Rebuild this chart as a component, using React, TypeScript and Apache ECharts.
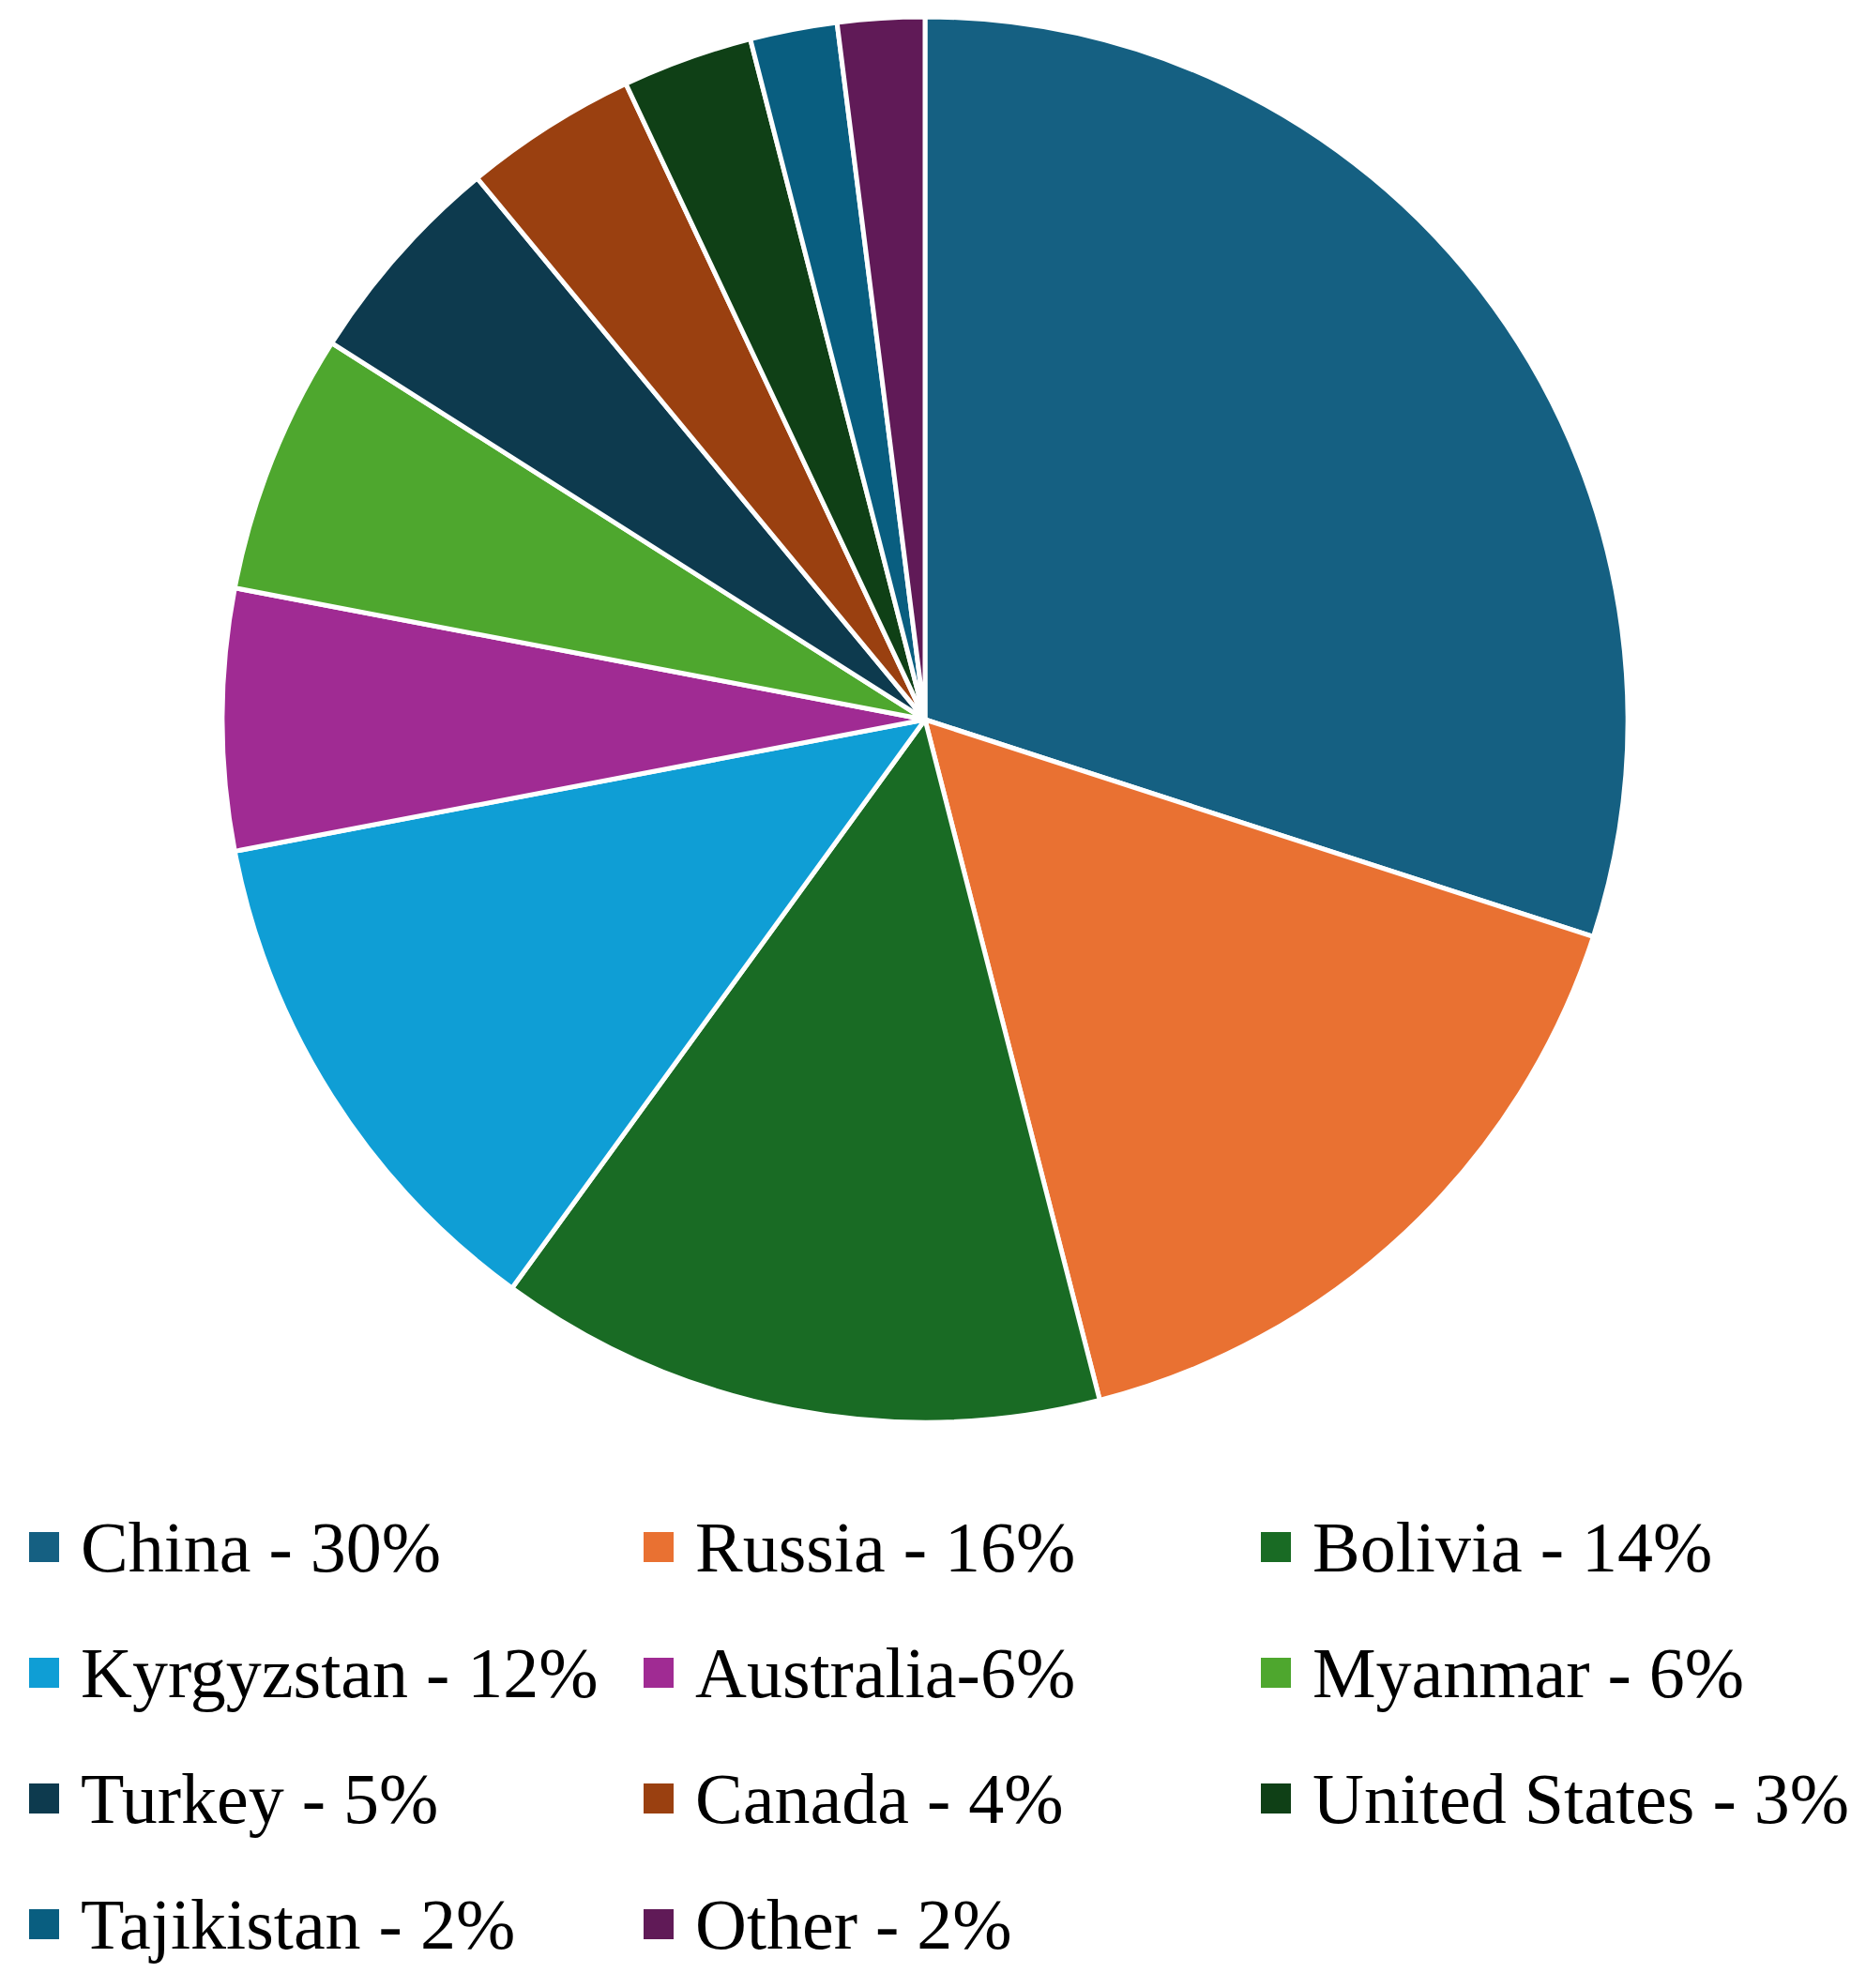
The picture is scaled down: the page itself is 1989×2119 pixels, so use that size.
import React, { useEffect, useRef } from "react";
import * as echarts from "echarts";

const countries = [
  "China",
  "Russia",
  "Bolivia",
  "Kyrgyzstan",
  "Australia",
  "Myanmar",
  "Turkey",
  "Canada",
  "United States",
  "Tajikistan",
  "Other",
];
const shares = [30, 16, 14, 12, 6, 6, 5, 4, 3, 2, 2];
const legendLabels = [
  "China - 30%",
  "Russia - 16%",
  "Bolivia - 14%",
  "Kyrgyzstan - 12%",
  "Australia-6%",
  "Myanmar - 6%",
  "Turkey - 5%",
  "Canada - 4%",
  "United States - 3%",
  "Tajikistan - 2%",
  "Other - 2%",
];
const colors = [
  "#156082",
  "#E97132",
  "#196B24",
  "#0F9ED5",
  "#A02B93",
  "#4EA72E",
  "#0D3A4E",
  "#9A4010",
  "#0F4016",
  "#095E80",
  "#601A57",
];
const legendCol1 = ["China", "Kyrgyzstan", "Turkey", "Tajikistan"];
const legendCol2 = ["Russia", "Australia", "Canada", "Other"];
const legendCol3 = ["Bolivia", "Myanmar", "United States"];

export default function App() {
  const ref = useRef<HTMLDivElement>(null);
  useEffect(() => {
    if (!ref.current) return;
    const chart = echarts.init(ref.current, null, { renderer: "svg" });
    const fmt = (name: string) => legendLabels[countries.indexOf(name)];
    const mkLegend = (data: string[], left: number) => ({
      orient: "vertical",
      left,
      top: 1611,
      padding: 0,
      data,
      icon: "rect",
      itemWidth: 34,
      itemHeight: 34,
      itemGap: 58,
      formatter: fmt,
      selectedMode: false,
      textStyle: {
        fontFamily: "Liberation Serif",
        fontSize: 76,
        lineHeight: 76,
        color: "#000",
        padding: [0, 0, 0, 17],
      },
    });
    chart.setOption({
      animation: false,
      backgroundColor: "#fff",
      color: colors,
      legend: [
        mkLegend(legendCol1, 29),
        mkLegend(legendCol2, 684),
        mkLegend(legendCol3, 1342),
      ],
      series: [
        {
          type: "pie",
          center: [986, 767],
          radius: 749,
          startAngle: 90,
          clockwise: true,
          label: { show: false },
          labelLine: { show: false },
          itemStyle: { borderColor: "#fff", borderWidth: 5 },
          emphasis: { disabled: true },
          data: countries.map((c, i) => ({ name: c, value: shares[i] })),
        },
      ],
    });
    return () => chart.dispose();
  }, []);
  return (
    <div
      ref={ref}
      style={{ position: "fixed", left: 0, top: 0, width: 1989, height: 2119 }}
    />
  );
}
